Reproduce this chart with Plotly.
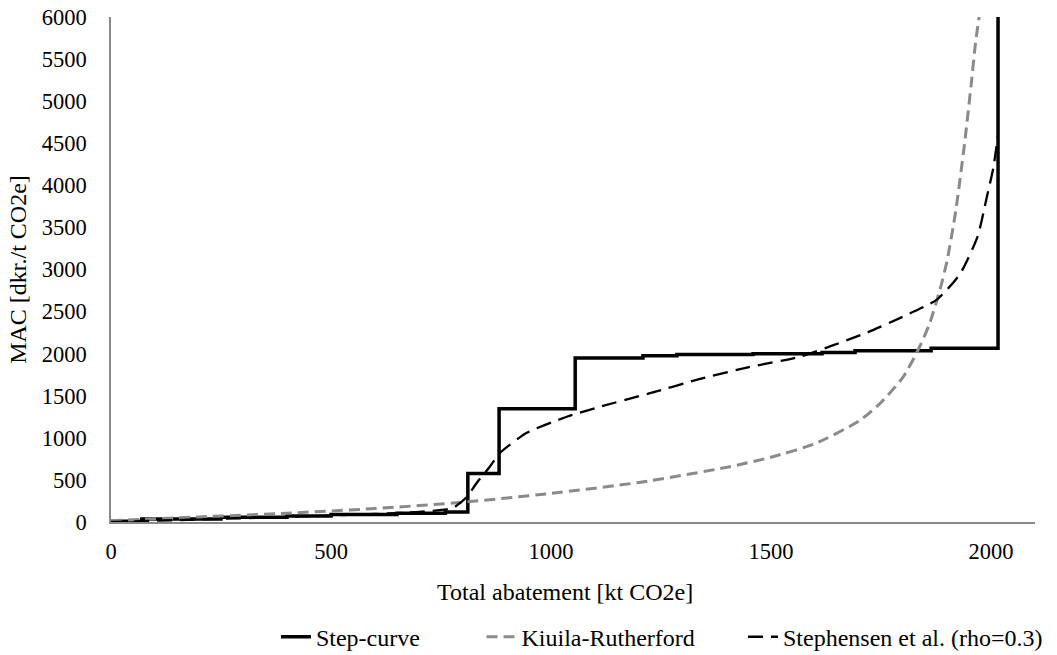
import plotly.graph_objects as go

# ---- data ----
step_x = [0, 70, 250, 400, 500, 650, 760, 811, 882, 1055, 1209, 1286, 1459, 1616, 1691, 1864, 2016, 2016]
step_y = [10, 35, 55, 70, 90, 105, 120, 575, 1345, 1950, 1975, 1990, 2000, 2015, 2035, 2065, 2065, 6000]

kr_x = [0, 200, 400, 600, 800, 1000, 1200, 1400, 1500, 1600, 1700, 1750, 1800, 1834, 1860, 1884, 1900, 1920, 1940, 1955, 1965, 1973]
kr_y = [15, 60, 105, 160, 235, 340, 470, 650, 770, 930, 1200, 1420, 1720, 2040, 2350, 2760, 3100, 3700, 4500, 5200, 5700, 6000]

st_x = [0, 200, 400, 600, 700, 777, 809, 831, 860, 884, 945, 1036, 1111, 1225, 1339, 1450, 1566, 1718, 1800, 1877, 1930, 1970, 1990, 2005, 2016]
st_y = [0, 30, 60, 95, 120, 167, 298, 464, 650, 821, 1060, 1250, 1369, 1530, 1700, 1840, 1965, 2250, 2440, 2643, 2950, 3400, 3850, 4200, 4600]

x_ticks = [0, 500, 1000, 1500, 2000]
y_ticks = list(range(0, 6001, 500))

FONT = "Times New Roman, Liberation Serif, serif"
GRAY = "#8a8a8a"

fig = go.Figure()
fig.add_trace(go.Scatter(x=step_x, y=step_y, mode="lines", name="Step-curve",
                         line=dict(color="black", width=3.5, shape="hv"), legend="legend"))
fig.add_trace(go.Scatter(x=kr_x, y=kr_y, mode="lines", name="Kiuila-Rutherford",
                         line=dict(color=GRAY, width=3, dash="11px,6px", shape="spline", smoothing=0.6),
                         legend="legend2"))
fig.add_trace(go.Scatter(x=st_x, y=st_y, mode="lines", name="Stephensen et al. (rho=0.3)",
                         line=dict(color="black", width=2.3, dash="15px,8px", shape="spline", smoothing=0.6),
                         legend="legend3"))

legend_common = dict(orientation="h", yanchor="middle", y=-0.228, xanchor="left",
                     font=dict(family=FONT, size=24, color="black"), bgcolor="rgba(0,0,0,0)")

fig.update_layout(
    width=1057, height=655,
    margin=dict(l=111, r=22, t=17, b=133, autoexpand=False),
    paper_bgcolor="white", plot_bgcolor="white",
    font=dict(family=FONT, size=24, color="black"),
    showlegend=True,
    legend=dict(x=0.1785, **legend_common),
    legend2=dict(x=0.401, **legend_common),
    legend3=dict(x=0.684, **legend_common),
    xaxis=dict(range=[0, 2100], tickvals=x_ticks, showgrid=False, zeroline=False,
               showline=True, linecolor=GRAY, linewidth=1.5, ticks="", automargin=False,
               ticklabelstandoff=8,
               tickfont=dict(family=FONT, size=22.5, color="black")),
    yaxis=dict(range=[0, 6000], tickvals=y_ticks, showgrid=False, zeroline=False,
               showline=True, linecolor=GRAY, linewidth=1.5, ticks="", automargin=False,
               ticklabelstandoff=18, ticklabeloverflow="allow",
               tickfont=dict(family=FONT, size=22.5, color="black"),
               title=dict(text="MAC [dkr./t CO2e]", standoff=8,
                          font=dict(family=FONT, size=24, color="black"))),
    annotations=[dict(text="Total abatement [kt CO2e]", xref="paper", yref="paper",
                      x=0.491, y=-0.138, xanchor="center", yanchor="middle", showarrow=False,
                      font=dict(family=FONT, size=24, color="black"))],
)

# remove the default 8px page margin so the figure fills the window exactly
fig.write_html("out.html",
               config={"displayModeBar": False},
               post_script="document.body.style.margin='0';document.body.style.overflow='hidden';")
